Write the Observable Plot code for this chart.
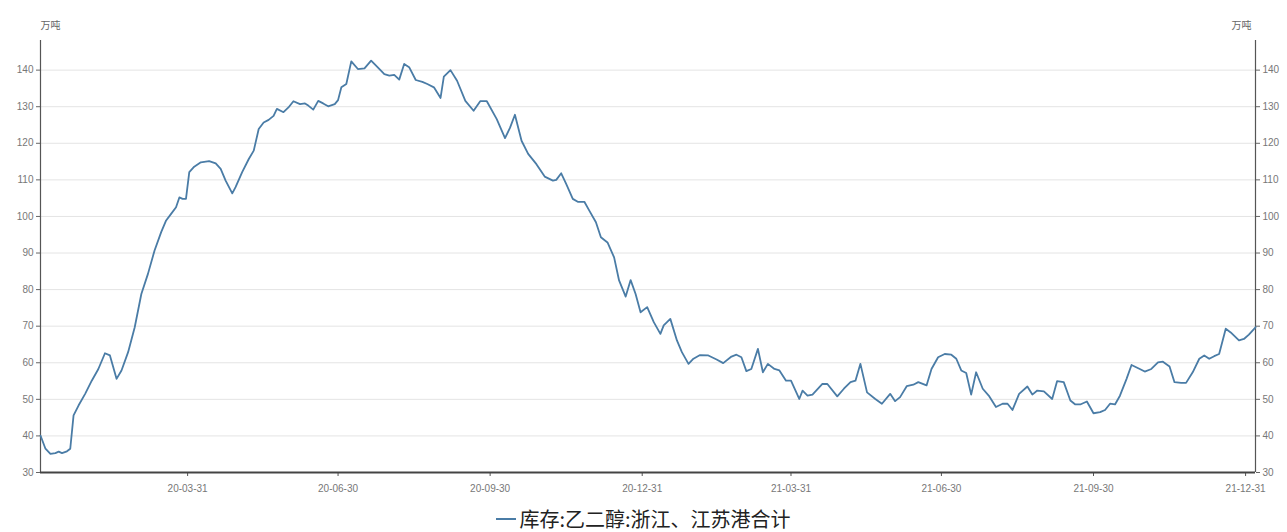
<!DOCTYPE html>
<html><head><meta charset="utf-8">
<script src="https://cdn.jsdelivr.net/npm/d3@7"></script>
<script src="https://cdn.jsdelivr.net/npm/@observablehq/plot@0.6"></script>
<style>
body{margin:0;background:#fff;font-family:"Liberation Sans","Noto Sans CJK SC",sans-serif;overflow:hidden;}
#legend{height:27px;display:flex;justify-content:center;align-items:center;font-size:20px;line-height:24px;color:#222;font-family:"Noto Sans CJK SC",sans-serif;}
.sw{display:inline-block;width:20px;height:2px;background:#4a7ca6;margin-right:3px}
</style></head><body><div id="chart"></div><div id="legend"></div>
<script>
const startDate = "2020-01-02";
const endDate = "2022-01-06";
const seriesName = "库存:乙二醇:浙江、江苏港合计";
const unitLabel = "万吨";
const xTickDates = ["2020-03-31","2020-06-30","2020-09-30","2020-12-31","2021-03-31","2021-06-30","2021-09-30","2021-12-31"];
const yTicks = [30,40,50,60,70,80,90,100,110,120,130,140];
// days since startDate
const dayOffsets = [0,3,6,9,11,13,16,18,20,23,27,31,35,39,42,46,49,53,57,61,65,69,73,76,79,82,84,86,88,90,93,97,102,106,109,112,116,118,122,126,129,132,135,138,141,143,147,150,153,157,160,162,165,168,171,174,178,180,182,185,188,192,196,200,203,208,211,214,217,220,223,227,231,234,238,242,244,248,252,
257,262,266,270,276,281,284,287,291,295,300,305,310,312,315,318,322,325,329,332,336,339,343,347,350,354,357,360,363,367,371,375,377,381,385,388,392,395,399,404,409,413,418,421,424,427,430,434,437,440,444,447,451,454,459,461,464,467,473,476,482,486,490,493,496,500,505,
509,514,517,520,524,528,531,536,539,543,547,551,554,557,560,563,566,570,574,578,582,585,588,592,597,600,603,607,612,615,619,623,626,629,633,637,641,644,647,650,653,657,660,665,668,672,676,679,683,686,690,693,697,701,704,707,710,713,717,720,725,728,731,735];
const stockValues = [40.1,36.5,35.1,35.3,35.7,35.3,35.8,36.5,45.6,48.3,51.5,55.1,58.3,62.6,62.0,55.6,57.9,62.9,69.7,78.8,84.3,90.7,95.7,98.9,100.7,102.5,105.2,104.8,104.8,112.1,113.6,114.8,115.1,114.5,113.0,109.8,106.3,108.0,112.1,115.7,118.0,123.9,125.7,126.4,127.5,129.4,128.5,129.8,131.5,130.7,130.9,130.3,129.2,131.6,130.9,130.1,130.7,131.8,135.3,136.2,142.4,140.3,140.5,142.6,141.2,138.9,138.5,138.7,137.4,141.7,140.8,137.3,136.8,136.2,135.3,132.4,138.2,140.0,137.1,
131.6,128.9,131.5,131.5,126.6,121.4,124.2,127.8,120.7,117.1,114.3,110.9,109.8,110.0,111.8,108.9,104.8,104.0,104.0,101.6,98.4,94.3,92.9,88.8,82.5,78.1,82.6,78.8,73.8,75.2,71.1,67.9,70.2,72.0,66.1,62.9,59.7,61.1,62.1,62.0,60.9,59.9,61.7,62.2,61.5,57.7,58.3,63.8,57.4,59.7,58.3,57.9,55.1,55.1,50.1,52.4,51.0,51.3,54.2,54.2,50.8,52.9,54.7,55.1,59.7,51.9,50.1,
48.8,51.5,49.5,50.6,53.6,54.0,54.7,53.8,58.3,61.5,62.4,62.2,61.1,57.9,57.2,51.3,57.4,52.9,50.8,47.9,48.8,48.8,47.1,51.5,53.5,51.3,52.4,52.2,50.1,55.0,54.7,49.7,48.6,48.6,49.4,46.2,46.5,47.1,48.8,48.6,51.0,55.6,59.4,58.3,57.6,58.3,60.1,60.3,59.0,54.7,54.5,54.5,57.4,61.1,62.0,61.1,61.8,62.4,69.3,68.3,66.1,66.5,67.7,69.7];

const start = new Date(startDate);
const end = new Date(endDate);
const data = dayOffsets.map((d, i) => ({date: d3.utcDay.offset(start, d), value: stockValues[i]}));
const xTicks = xTickDates.map(s => new Date(s));
const fmt = d3.utcFormat("%y-%m-%d");
const lineColor = "#4a7ca6";

const chart = Plot.plot({
  width: 1287, height: 505,
  marginLeft: 40, marginRight: 32, marginTop: 40, marginBottom: 33,
  style: {fontFamily: "'Liberation Sans','Noto Sans CJK SC',sans-serif", fontSize: "10px", color: "#777", background: "#fff"},
  x: {type: "utc", domain: [start, end]},
  y: {domain: [30, 148.1]},
  marks: [
    Plot.gridY(yTicks, {stroke: "#e4e4e4", strokeOpacity: 1}),
    Plot.axisY(yTicks, {anchor: "left", tickSize: 4, tickPadding: 3, label: null, stroke: "#666", fill: "#777"}),
    Plot.axisY(yTicks, {anchor: "right", tickSize: 4, tickPadding: 3, label: null, stroke: "#666", fill: "#777"}),
    Plot.axisX(xTicks, {tickFormat: fmt, tickSize: 4, tickPadding: 8, label: null, stroke: "#555", fill: "#777"}),
    Plot.ruleX([start], {stroke: "#555", strokeWidth: 1.2}),
    Plot.ruleX([end], {stroke: "#555", strokeWidth: 1.2}),
    Plot.ruleY([30], {stroke: "#444", strokeWidth: 2}),
    Plot.line(data, {x: "date", y: "value", stroke: lineColor, strokeWidth: 1.8}),
    Plot.text([unitLabel], {frameAnchor: "top-left", dy: -19, fill: "#666", fontSize: 10, fontFamily: "'Noto Sans CJK SC',sans-serif"}),
    Plot.text([unitLabel], {frameAnchor: "top-right", dx: -4, dy: -19, fill: "#666", fontSize: 10, fontFamily: "'Noto Sans CJK SC',sans-serif"})
  ]
});
document.getElementById("chart").appendChild(chart);
const lg = document.getElementById("legend");
lg.innerHTML = `<span class="sw"></span><span>${seriesName}</span>`;
</script></body></html>
